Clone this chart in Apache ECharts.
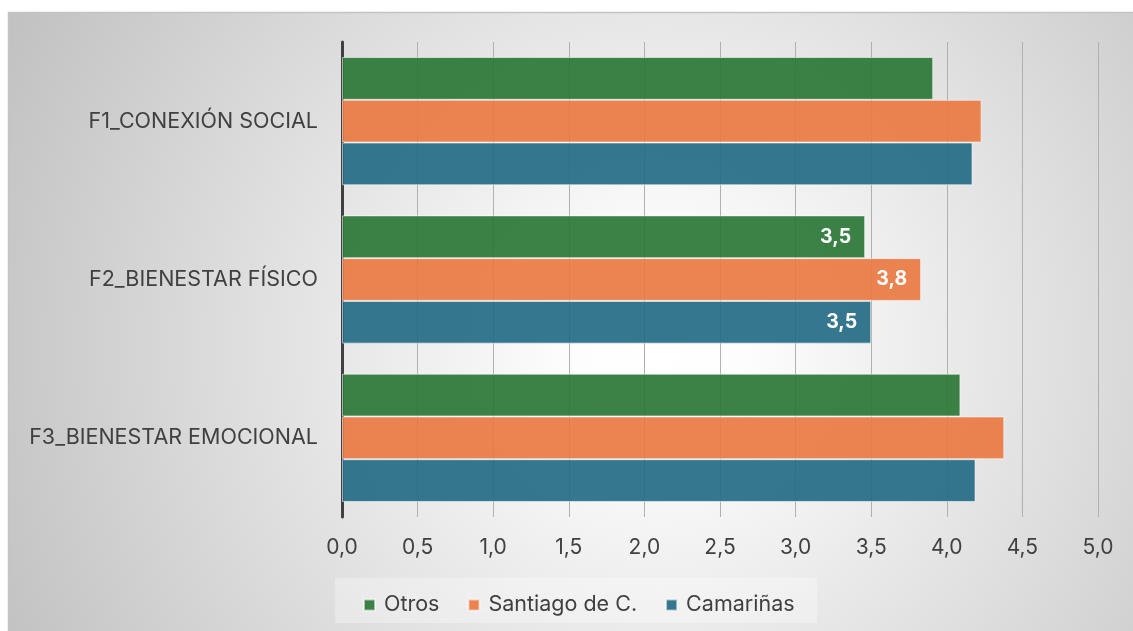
<!DOCTYPE html>
<html>
<head>
<meta charset="utf-8">
<script src="https://cdn.jsdelivr.net/npm/echarts@6/dist/echarts.min.js"></script>
<style>
  html, body { margin: 0; padding: 0; background: #ffffff; }
  #chart { width: 1133px; height: 631px; }
</style>
</head>
<body>
<div id="chart"></div>
<script>
// Factor categories (top to bottom)
const categories = ['F1_CONEXIÓN SOCIAL', 'F2_BIENESTAR FÍSICO', 'F3_BIENESTAR EMOCIONAL'];

// Mean scores per group
const otros = [3.91, 3.46, 4.09];
const santiago = [4.23, 3.83, 4.38];
const camarinas = [4.17, 3.5, 4.19];

const seriesNames = ['Otros', 'Santiago de C.', 'Camariñas'];

// Only the second factor carries value labels
const labelledCategory = 'F2_BIENESTAR FÍSICO';

// Axis ticks
const axisMin = 0;
const axisMax = 5;
const axisStep = 0.5;

const FONT = 'Inter, "Noto Sans", sans-serif';
const fmt = v => v.toFixed(1).replace('.', ',');

const colors = ['rgba(43,118,54,0.92)', 'rgba(233,122,65,0.92)', 'rgba(37,107,135,0.92)'];

function buildData(values) {
  return values.map((v, i) => ({
    value: v,
    label: { show: categories[i] === labelledCategory }
  }));
}

const chart = echarts.init(document.getElementById('chart'), null, { renderer: 'canvas' });

chart.setOption({
  animation: false,
  graphic: [
    {
      type: 'rect',
      z: -10,
      silent: true,
      shape: { x: 8.5, y: 12.5, width: 1140, height: 640 },
      style: {
        fill: {
          type: 'radial', x: 0.57, y: 0.52, r: 1.15,
          colorStops: [
            { offset: 0, color: '#ffffff' },
            { offset: 0.12, color: '#fdfdfd' },
            { offset: 1, color: '#c0c0c0' }
          ]
        },
        stroke: '#c4c4c4',
        lineWidth: 1.5
      }
    },
    {
      type: 'rect',
      z: -9,
      silent: true,
      shape: { x: 335, y: 578, width: 482, height: 45 },
      style: { fill: 'rgba(255,255,255,0.3)' }
    }
  ],
  color: colors,
  grid: { left: 342, right: 35, top: 42, bottom: 114, containLabel: false },
  legend: {
    data: seriesNames,
    left: 358,
    top: 589,
    icon: 'rect',
    itemWidth: 11,
    itemHeight: 11,
    itemGap: 28,
    textStyle: { color: '#404040', fontSize: 21.5, fontFamily: FONT, padding: [0, 0, 0, 4] }
  },
  xAxis: {
    type: 'value',
    min: axisMin,
    max: axisMax,
    interval: axisStep,
    axisLine: { show: false },
    axisTick: { show: false },
    splitLine: { show: true, lineStyle: { color: '#b0b0b0', width: 1 } },
    axisLabel: {
      color: '#404040', fontSize: 21, fontFamily: FONT, margin: 20,
      formatter: v => fmt(v)
    }
  },
  yAxis: {
    type: 'category',
    data: categories,
    inverse: true,
    axisLine: { show: true, lineStyle: { color: '#404040', width: 3 } },
    axisTick: { show: false },
    axisLabel: { color: '#404040', fontSize: 21.5, fontFamily: FONT, margin: 24 }
  },
  series: [otros, santiago, camarinas].map((vals, k) => ({
    name: seriesNames[k],
    type: 'bar',
    data: buildData(vals),
    barGap: '0%',
    barCategoryGap: '19%',
    itemStyle: { color: colors[k], borderColor: 'rgba(255,255,255,0.55)', borderWidth: 1 },
    label: {
      position: 'insideRight',
      distance: 14,
      color: '#ffffff',
      fontWeight: 'bold',
      fontSize: 19.5,
      fontFamily: FONT,
      formatter: p => fmt(p.value)
    }
  }))
});
</script>
</body>
</html>
